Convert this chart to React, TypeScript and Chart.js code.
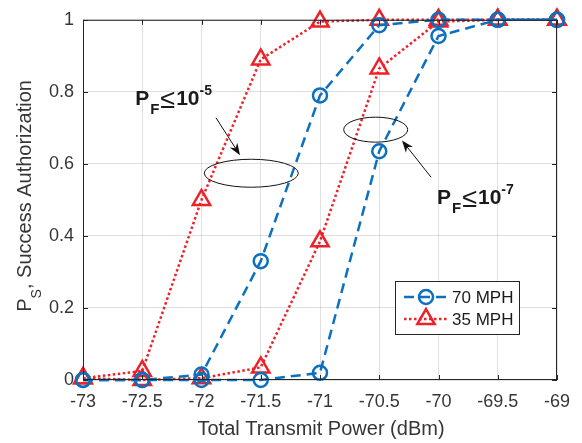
import { useEffect, useRef } from "react";
import { Chart, registerables } from "chart.js";
Chart.register(...registerables);

const powerDbm = [-73, -72.5, -72, -71.5, -71, -70.5, -70, -69.5, -69];
const mph70Pf5 = [0, 0, 0.015, 0.33, 0.79, 0.985, 1, 1, 1];
const mph70Pf7 = [0, 0, 0, 0, 0.02, 0.635, 0.955, 1, 1];
const mph35Pf5 = [0.005, 0.025, 0.5, 0.89, 0.995, 1, 1, 1, 1];
const mph35Pf7 = [0.005, 0, 0.005, 0.035, 0.385, 0.865, 0.995, 1, 1];
const legendLabels = ["70 MPH", "35 MPH"];

const BLUE = "#0C70BE";
const RED = "#EE2028";
const FONT = "'Liberation Sans', Arial, Helvetica, sans-serif";
const TXT = "#363636";

const fmt = (v: any) => String(Number(Number(v).toFixed(2)));

function drawArrow(ctx: CanvasRenderingContext2D, x1: number, y1: number, x2: number, y2: number) {
  const ang = Math.atan2(y2 - y1, x2 - x1);
  const L = 12, W = 4.5;
  ctx.beginPath();
  ctx.moveTo(x1, y1);
  ctx.lineTo(x2 - Math.cos(ang) * L * 0.7, y2 - Math.sin(ang) * L * 0.7);
  ctx.strokeStyle = "#111";
  ctx.lineWidth = 1;
  ctx.stroke();
  ctx.save();
  ctx.translate(x2, y2);
  ctx.rotate(ang);
  ctx.beginPath();
  ctx.moveTo(0, 0);
  ctx.lineTo(-L, -W);
  ctx.lineTo(-L * 0.7, 0);
  ctx.lineTo(-L, W);
  ctx.closePath();
  ctx.fillStyle = "#111";
  ctx.fill();
  ctx.restore();
}

function drawPF(ctx: CanvasRenderingContext2D, x: number, base: number, exp: string) {
  ctx.fillStyle = "#1a1a1a";
  ctx.textBaseline = "alphabetic";
  ctx.textAlign = "left";
  ctx.font = `bold 21px ${FONT}`;
  ctx.fillText("P", x, base);
  let cx = x + ctx.measureText("P").width + 1;
  ctx.font = `bold 15px ${FONT}`;
  ctx.fillText("F", cx, base + 9);
  cx += ctx.measureText("F").width + 1;
  ctx.font = `27px ${FONT}`;
  ctx.fillText("\u2264", cx, base + 3);
  cx += ctx.measureText("\u2264").width + 1;
  ctx.font = `bold 21px ${FONT}`;
  ctx.fillText("10", cx, base);
  cx += ctx.measureText("10").width;
  ctx.font = `bold 14px ${FONT}`;
  ctx.fillText(exp, cx, base - 10);
}

const decorPlugin = {
  id: "decor",
  afterDraw(chart: any) {
    const { ctx, chartArea: a, scales } = chart;
    const x = scales.x, y = scales.y;
    ctx.save();
    // box
    ctx.strokeStyle = "#262626";
    ctx.lineWidth = 1;
    ctx.strokeRect(a.left + 0.5, a.top + 0.5, a.right - a.left - 1, a.bottom - a.top - 1);
    // inward ticks
    ctx.beginPath();
    x.ticks.forEach((t: any) => {
      const px = Math.round(x.getPixelForValue(t.value)) + 0.5;
      ctx.moveTo(px, a.bottom); ctx.lineTo(px, a.bottom - 5);
      ctx.moveTo(px, a.top); ctx.lineTo(px, a.top + 5);
    });
    y.ticks.forEach((t: any) => {
      const py = Math.round(y.getPixelForValue(t.value)) + 0.5;
      ctx.moveTo(a.left, py); ctx.lineTo(a.left + 5, py);
      ctx.moveTo(a.right, py); ctx.lineTo(a.right - 5, py);
    });
    ctx.stroke();

    // ellipses
    ctx.strokeStyle = "#111";
    ctx.lineWidth = 1;
    ctx.beginPath();
    ctx.ellipse(x.getPixelForValue(-71.58), y.getPixelForValue(0.574), 47, 14, 0, 0, Math.PI * 2);
    ctx.stroke();
    ctx.beginPath();
    ctx.ellipse(x.getPixelForValue(-70.53), y.getPixelForValue(0.695), 32, 12.5, 0, 0, Math.PI * 2);
    ctx.stroke();

    // arrows
    drawArrow(ctx, x.getPixelForValue(-71.878), y.getPixelForValue(0.728), x.getPixelForValue(-71.675), y.getPixelForValue(0.624));
    drawArrow(ctx, x.getPixelForValue(-70.063), y.getPixelForValue(0.563), x.getPixelForValue(-70.308), y.getPixelForValue(0.665));

    // labels
    drawPF(ctx, x.getPixelForValue(-72.56), y.getPixelForValue(0.764), "-5");
    drawPF(ctx, x.getPixelForValue(-70.013), y.getPixelForValue(0.489), "-7");

    // legend
    const lx = 395, ly = 281, lw = 124, lh = 53;
    ctx.fillStyle = "#fff";
    ctx.fillRect(lx, ly, lw, lh);
    ctx.strokeStyle = "#262626";
    ctx.lineWidth = 1;
    ctx.strokeRect(lx + 0.5, ly + 0.5, lw, lh);
    const rows = [
      { c: BLUE, dash: [10, 6], style: "circle", r: 7, yy: 297 },
      { c: RED, dash: [2.5, 2.5], style: "triangle", r: 10, yy: 319 },
    ];
    rows.forEach((row, i) => {
      ctx.save();
      ctx.strokeStyle = row.c;
      ctx.lineWidth = 2.5;
      ctx.setLineDash(row.dash);
      ctx.beginPath();
      ctx.moveTo(404, row.yy);
      ctx.lineTo(447, row.yy);
      ctx.stroke();
      ctx.setLineDash([]);
      ctx.beginPath();
      if (row.style === "circle") {
        ctx.arc(426, row.yy, row.r, 0, Math.PI * 2);
      } else {
        let rad = 0;
        ctx.moveTo(426 + Math.sin(rad) * row.r, row.yy - Math.cos(rad) * row.r);
        rad += (2 * Math.PI) / 3;
        ctx.lineTo(426 + Math.sin(rad) * row.r, row.yy - Math.cos(rad) * row.r);
        rad += (2 * Math.PI) / 3;
        ctx.lineTo(426 + Math.sin(rad) * row.r, row.yy - Math.cos(rad) * row.r);
        ctx.closePath();
      }
      ctx.stroke();
      ctx.restore();
      ctx.fillStyle = "#1a1a1a";
      ctx.font = `17px ${FONT}`;
      ctx.textBaseline = "middle";
      ctx.textAlign = "left";
      ctx.fillText(legendLabels[i], 452, row.yy + 1);
    });

    // x title
    ctx.fillStyle = TXT;
    ctx.font = `20px ${FONT}`;
    ctx.textAlign = "center";
    ctx.textBaseline = "alphabetic";
    ctx.fillText("Total Transmit Power (dBm)", (a.left + a.right) / 2 + 1, 435);

    // y title
    ctx.save();
    ctx.translate(31, (a.top + a.bottom) / 2 - 4);
    ctx.rotate(-Math.PI / 2);
    ctx.textAlign = "left";
    ctx.font = `20px ${FONT}`;
    const wP = ctx.measureText("P").width;
    const rest = ", Success Authorization";
    const wR = ctx.measureText(rest).width;
    ctx.font = `14px ${FONT}`;
    const wS = ctx.measureText("S").width;
    let sx = -(wP + wS + wR) / 2;
    ctx.font = `20px ${FONT}`;
    ctx.fillText("P", sx, 0);
    sx += wP;
    ctx.font = `14px ${FONT}`;
    ctx.fillText("S", sx, 10);
    sx += wS;
    ctx.font = `20px ${FONT}`;
    ctx.fillText(rest, sx, 0);
    ctx.restore();

    ctx.restore();
  },
};

export default function App() {
  const ref = useRef<HTMLCanvasElement>(null);
  useEffect(() => {
    document.body.style.margin = "0";
    const mk = (data: number[], color: string, dash: number[], style: string, r: number) => ({
      data: powerDbm.map((p, i) => ({ x: p, y: data[i] })),
      borderColor: color,
      backgroundColor: color,
      borderWidth: 2.5,
      borderDash: dash,
      pointStyle: style,
      pointRadius: r,
      pointBorderWidth: 2.5,
      pointBorderColor: color,
      pointBackgroundColor: "rgba(0,0,0,0)",
      tension: 0,
      clip: false as any,
    });
    const chart = new Chart(ref.current!, {
      type: "line",
      data: {
        datasets: [
          mk(mph70Pf5, BLUE, [10, 6], "circle", 7),
          mk(mph70Pf7, BLUE, [10, 6], "circle", 7),
          mk(mph35Pf5, RED, [2.5, 2.5], "triangle", 10),
          mk(mph35Pf7, RED, [2.5, 2.5], "triangle", 10),
        ] as any,
      },
      options: {
        animation: false,
        responsive: false,
        layout: { padding: { top: 16, right: 25, left: 0, bottom: 0 } },
        plugins: { legend: { display: false }, tooltip: { enabled: false } },
        scales: {
          x: {
            type: "linear",
            min: -73,
            max: -69,
            afterFit: (s: any) => { s.height = 63; },
            ticks: { stepSize: 0.5, color: TXT, font: { family: FONT, size: 18 }, padding: 11, maxRotation: 0, callback: fmt },
            grid: { color: "rgba(0,0,0,0.12)", drawTicks: false },
            border: { display: false },
          },
          y: {
            min: 0,
            max: 1,
            afterFit: (s: any) => { s.width = 83; },
            ticks: { stepSize: 0.2, color: TXT, font: { family: FONT, size: 18 }, padding: 9, callback: fmt },
            grid: { color: "rgba(0,0,0,0.12)", drawTicks: false },
            border: { display: false },
          },
        },
      },
      plugins: [decorPlugin],
    });
    return () => chart.destroy();
  }, []);
  return <canvas ref={ref} width={582} height={443} style={{ display: "block", width: 582, height: 443 }} />;
}
